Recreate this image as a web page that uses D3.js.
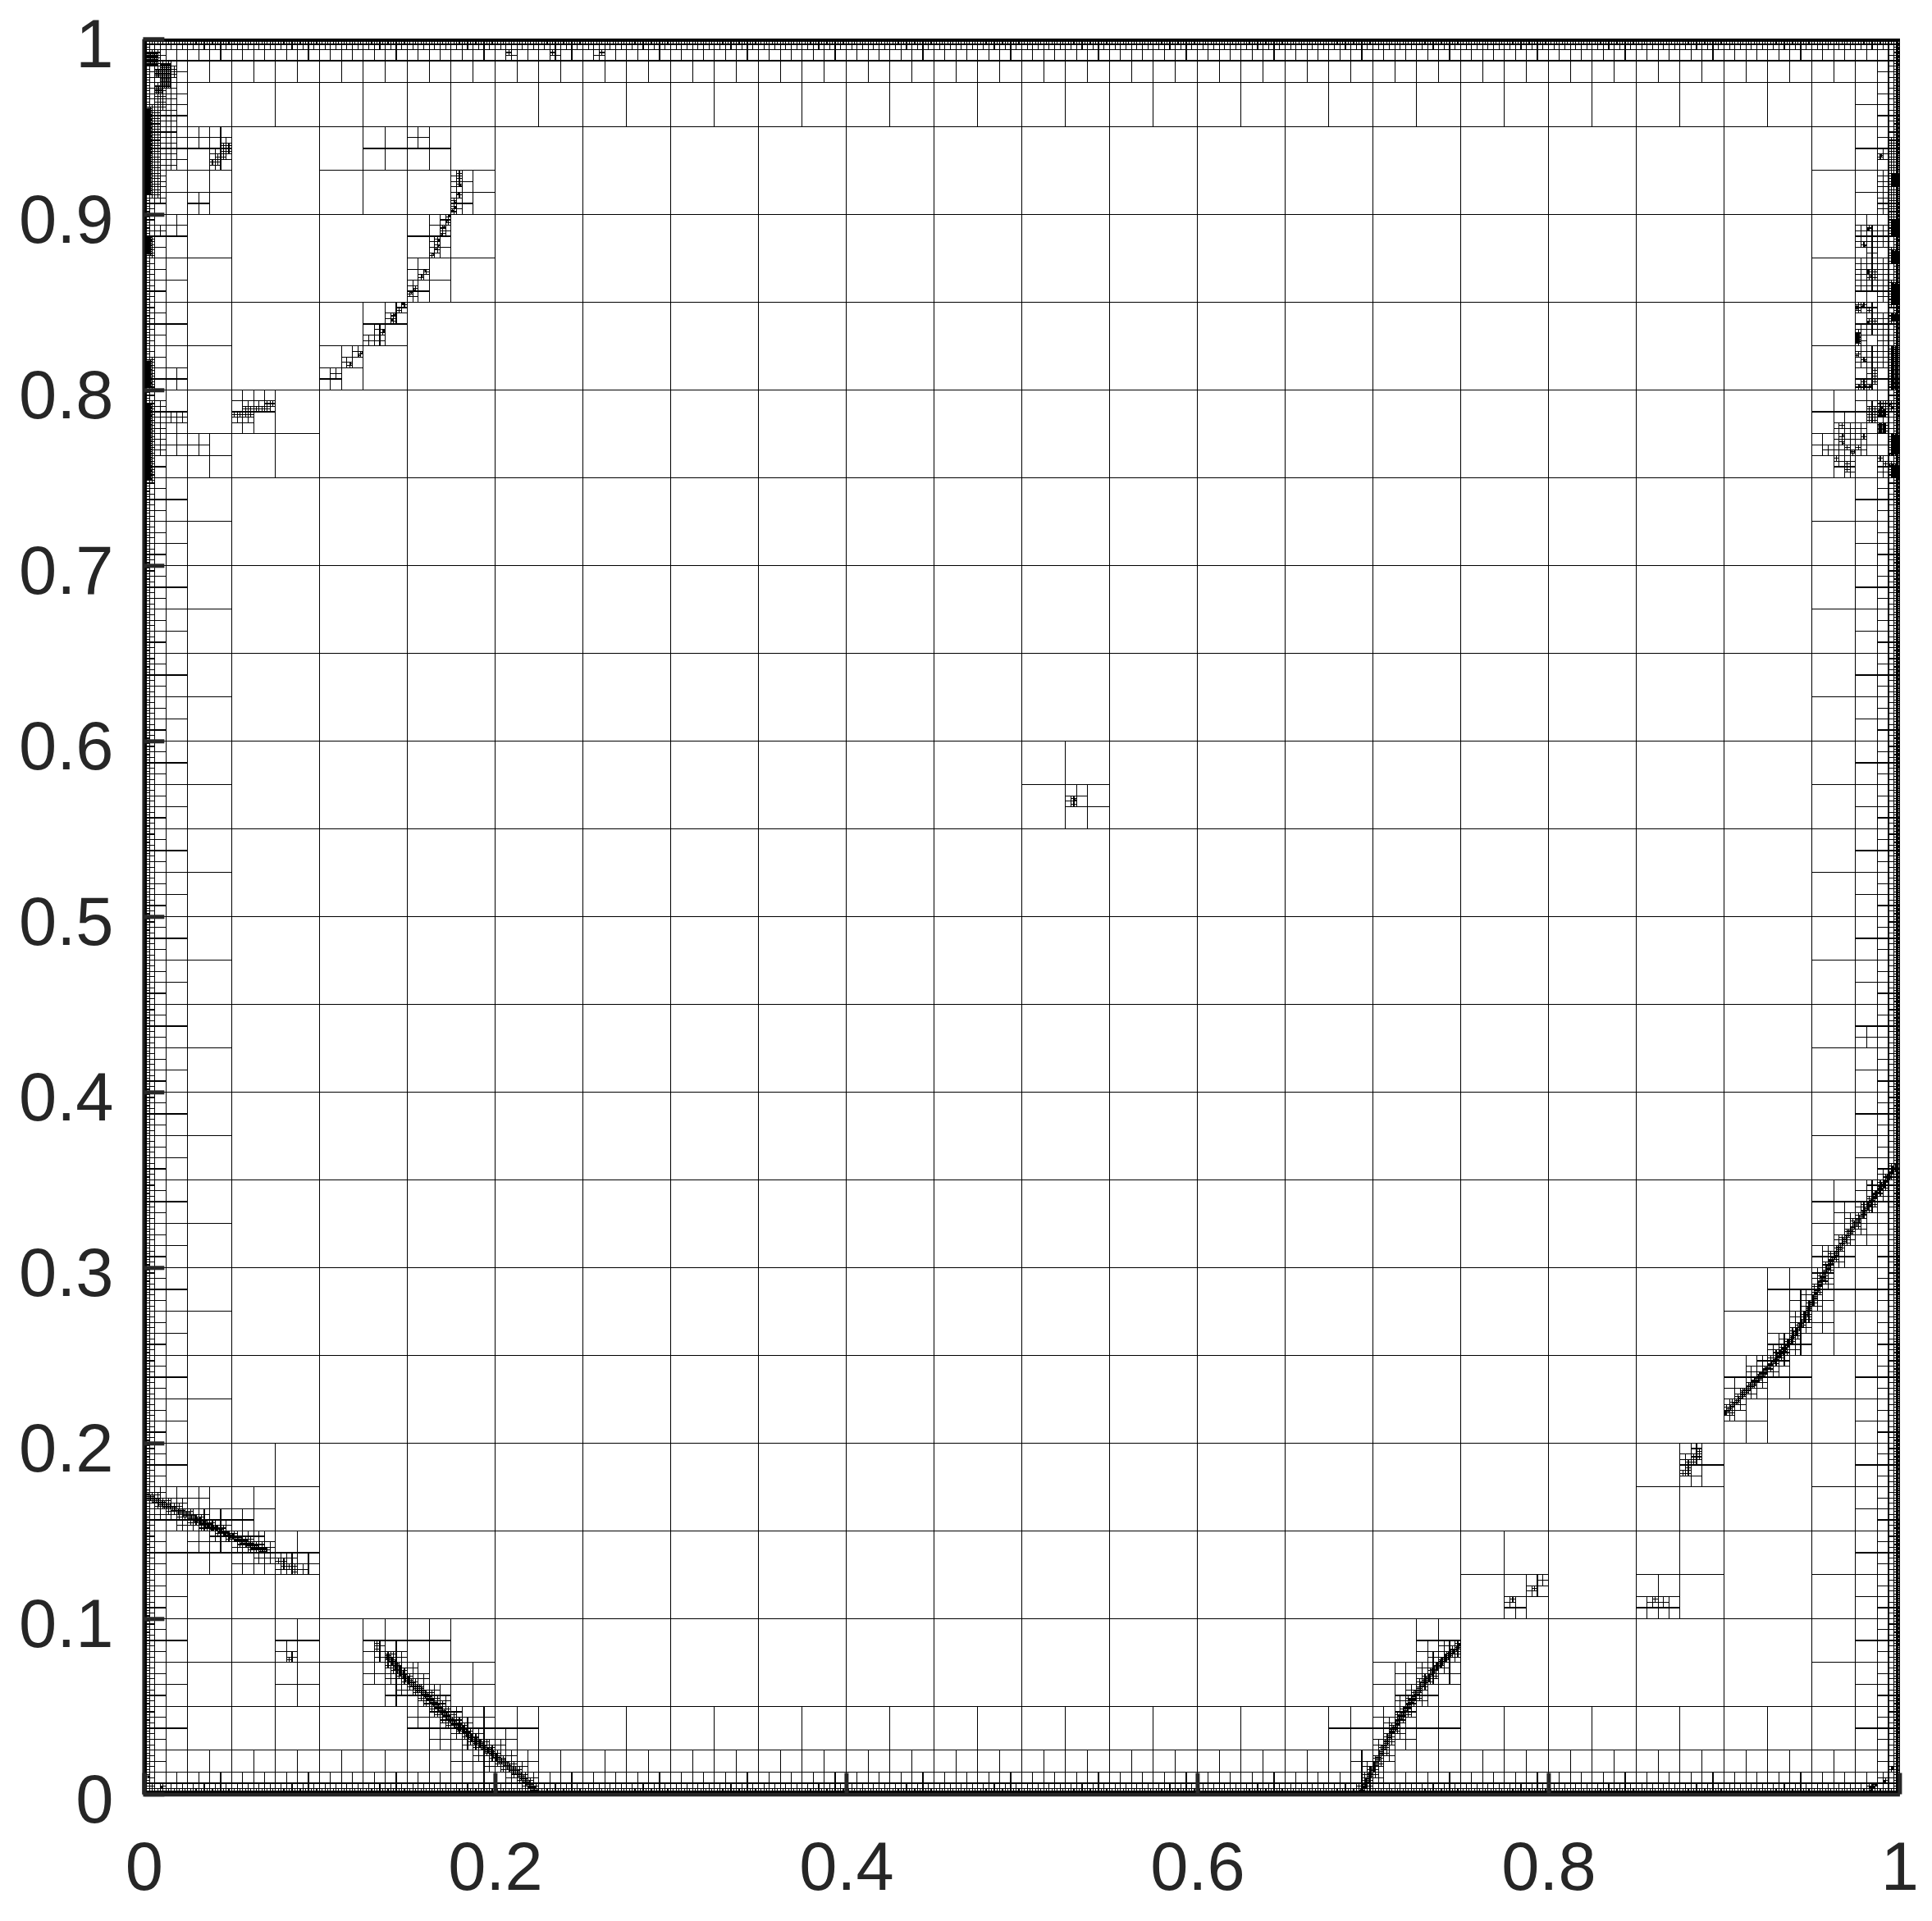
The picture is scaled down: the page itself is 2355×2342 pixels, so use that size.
<!DOCTYPE html>
<html><head><meta charset="utf-8">
<script src="https://cdn.jsdelivr.net/npm/d3@7/dist/d3.min.js"></script>
<style>html,body{margin:0;padding:0;background:#fff}svg{display:block}</style>
</head><body><div id="chart"></div>
<script>
// ---- axis values
const xTicks=[0,0.2,0.4,0.6,0.8,1];
const xTickLabels=["0","0.2","0.4","0.6","0.8","1"];
const yTicks=[0,0.1,0.2,0.3,0.4,0.5,0.6,0.7,0.8,0.9,1];
const yTickLabels=["0","0.1","0.2","0.3","0.4","0.5","0.6","0.7","0.8","0.9","1"];
// ---- mesh description: base cells per side, wall refinement depth
const baseCells=20;
const wallDepth=6;
// ---- refined interfaces [x,y]
const curveA=[[0,.1705],[.0256,.1586],[.0417,.151],[.0524,.1457],[.0685,.1385]];
const curveA2=[[.0756,.1337],[.0819,.1305],[.0872,.1272]];
const curveB=[[.1385,.0787],[.1507,.0648],[.1632,.0542],[.1757,.0417],[.1882,.0311],[.2007,.0213],[.2132,.0115],[.2248,.0005]];
const curveC=[[.6937,.0012],[.7038,.0213],[.7105,.0346],[.7195,.0494],[.7296,.0642],[.7397,.076],[.7495,.0843]];
const curveG=[[.877,.1825],[.8825,.19],[.887,.1959]];
const curveH=[[.9005,.2166],[.9129,.2299],[.9241,.2417],[.9353,.2544],[.9455,.2698],[.9522,.2846],[.9578,.2979],[.9668,.3127],[.978,.329],[.9893,.3453],[1,.3605]];
const curveL=[[.0517,.7862],[.0556,.7862],[.0614,.7882],[.0672,.7886],[.072,.7911]];
const curveM=[[.0397,.929],[.0449,.9345],[.0482,.9393]];
const curveBR=[[.9837,.003],[.986,.005]];
const curves=[curveA,curveA2,curveB,curveC,curveG,curveH,curveL,curveM,curveBR];
const curveDepth=[6,5,6,6,5,6,5,5,6];
const curveHalo=[.3,.05,.3,.2,0,.12,.03,.03,.05];
// ---- arc of separate refined spots, upper left [x,y,depth]
const arcSpots=[[.1805,.9231,5],[.1805,.9192,5],[.1797,.916,6],[.1789,.9121,6],[.1774,.9075,6],[.1766,.9044,6],[.1761,.9017,6],[.1743,.8989,6],
[.1727,.8955,6],[.1712,.8924,6],[.1699,.8888,6],[.168,.8849,6],[.1673,.8826,6],[.1665,.8799,6],[.1649,.8768,6],[.1602,.8674,6],[.1587,.8644,6],
[.154,.8572,6],[.1525,.8556,6],[.1509,.8541,5],[.1478,.8487,6],[.1462,.8463,5],[.1447,.8447,5],[.1431,.8425,6],[.1415,.84,6],[.1369,.8332,6],
[.133,.83,4],[.1291,.8262,4],[.1236,.8213,6],[.1226,.82,6],[.1178,.8148,6],[.1109,.8083,4]];
// ---- isolated spots, lower field and edges [x,y,depth]
const spots=[[.0827,.0773,5],[.08,.06,2],[.06,.16,2],[.13,.94,2],[.165,.93,2],[.1328,.0855,5],[.134,.084,5],[.7791,.1101,5],[.7926,.1175,5],[.797,.122,4],
[.8612,.1115,5],[.8585,.1075,4],[.8665,.1075,4],[.5305,.5665,6],[.5298,.564,5],[.1534,.947,3],[.209,.992,5],[.234,.9925,5],[.26,.9925,5],
[.028,.9093,3],[.0149,.8977,3],[.0159,.8047,3],[.0285,.7659,3],[.0344,.9425,3],[.0072,.891,4],[.005,.883,5],[.981,.432,3],
[.0029,.0098,7],[.01,.0033,7],[.0045,.0055,5],[.9962,.0154,6],[.992,.0071,6]];
// ---- spots of the upper right cluster [x,y,depth]
const rightSpots=[[.9902,.9336,6],[.9827,.8919,6],[.98,.8826,6],[.9824,.8662,7],[.9815,.868,6],[.9833,.8645,6],[.9762,.8483,6],[.9762,.8468,6],
[.9791,.8478,6],[.9819,.8444,5],[.9845,.8405,5],[.9827,.8385,6],[.9762,.8312,6],[.9762,.835,4],[.9866,.8802,4],[.978,.8218,5],[.9762,.8203,6],[.9804,.8167,6],
[.9811,.8031,6],[.9773,.803,6],[.9788,.8058,5],[.9858,.8054,5],[.9835,.803,6],[.996,.816,6],[.9965,.8125,6],
[.9884,.7925,5],[.9915,.7925,5],[.995,.791,6],[.9965,.7905,6],[.9895,.79,6],[.9805,.7805,4],[.9804,.7735,5],
[.9679,.7696,6],[.9686,.7735,6],[.9741,.7642,6],[.9725,.7642,6],[.9718,.7665,5],[.9679,.7805,5],[.9773,.7673,5],[.9656,.7603,5],[.9703,.7587,5],[.9702,.7543,5],[.9582,.7673,4],
[.9892,.7611,5],[.9951,.7634,6],[.9951,.7564,6],[.9928,.7579,5]];
// ---- densely refined patches [x0,x1,y0,y1,depth]
const patches=[
// upper left
[.0125,.025,.925,.9625,3],[.0125,.016,.925,.9729,4],[.00625,.0125,.9125,.9729,4],[.004,.0066,.9122,.9597,5],[0,.0034,.9122,.9597,7],
[.003,.0066,.9846,.9908,6],[.0066,.0138,.9785,.9815,6],[.0107,.0144,.9729,.9846,6],[.0066,.0097,.969,.9721,6],[.0066,.0097,.96,.969,5],[.014,.018,.979,.9815,5],
[0,.0034,.878,.886,7],[0,.0034,.803,.816,7],[0,.0034,.75,.791,7],[.00625,.0125,.765,.79,4],[.0125,.025,.7814,.787,4],[.0125,.019,.77,.7814,3],
// upper right
[.9912,.9944,.9005,.9223,4],[.9944,.9985,.89,.9425,5],[.9875,.9944,.8818,.8903,4],[.979,.9875,.8818,.888,4],[.9845,.9944,.86,.8748,4],[.9912,.9944,.8506,.86,4],
[.9815,.9845,.8631,.8678,5],[.979,.9845,.86,.87,4],[.9845,.9944,.8319,.8436,4],[.9755,.977,.8268,.832,7],[.981,.9865,.8175,.822,4],[.9855,.987,.807,.812,5],
[.9875,.9944,.8187,.8249,4],[.9912,.9944,.8249,.835,4],[.9878,.9908,.7845,.7885,6],[.9885,.992,.7755,.781,6],[.982,.987,.7825,.7885,5],
[.9625,.9775,.7625,.7725,4],[.9662,.9712,.775,.78,4],[.9875,.9925,.7505,.7525,4],
[.9959,1,.916,.9223,7],[.9959,1,.8888,.8958,7],[.9959,1,.8724,.8787,7],[.9959,1,.8491,.86,7],[.9959,1,.8397,.8429,7],[.9965,1,.7634,.7735,7],[.9965,1,.7503,.7564,7],[.9965,1,.8,.8249,6]];

// ---- layout
const W=2355,H=2342,plotLeft=175.4,plotTop=47.3,side=2140;
const x=d3.scaleLinear().domain([0,1]).range([plotLeft,plotLeft+side]);
const y=d3.scaleLinear().domain([0,1]).range([plotTop+side,plotTop]);

function segHitsBox(a,b,x0,x1,y0,y1){
  let t0=0,t1=1;const dx=b[0]-a[0],dy=b[1]-a[1];
  const ps=[-dx,dx,-dy,dy],qs=[a[0]-x0,x1-a[0],a[1]-y0,y1-a[1]];
  for(let i=0;i<4;i++){
    if(ps[i]===0){if(qs[i]<0)return false;continue;}
    const r=qs[i]/ps[i];
    if(ps[i]<0){if(r>t1)return false;if(r>t0)t0=r;}
    else{if(r<t0)return false;if(r<t1)t1=r;}
  }
  return true;
}
const allSpots=[...arcSpots,...spots,...rightSpots];
function needsSplit(i,j,k){
  const n=baseCells*Math.pow(2,k),s=1/n;
  const x0=i*s,x1=x0+s,y0=j*s,y1=y0+s;
  if(k<wallDepth&&(i===0||j===0||i===n-1||j===n-1))return true;
  for(const p of patches){
    if(p[4]>k&&x0<p[1]&&x1>p[0]&&y0<p[3]&&y1>p[2])return true;
  }
  for(const q of allSpots){
    if(q[2]>k&&q[0]>=x0&&q[0]<x1&&q[1]>=y0&&q[1]<y1)return true;
  }
  for(let c=0;c<curves.length;c++){
    if(curveDepth[c]<=k)continue;
    const m=k===0?0:curveHalo[c]*s,pts=curves[c];
    for(let e=0;e<pts.length-1;e++){
      if(segHitsBox(pts[e],pts[e+1],x0-m,x1+m,y0-m,y1+m))return true;
    }
  }
  return false;
}
const meshPath=d3.path();
function cell(i,j,k){
  if(k<8&&needsSplit(i,j,k)){
    cell(2*i,2*j,k+1);cell(2*i+1,2*j,k+1);cell(2*i,2*j+1,k+1);cell(2*i+1,2*j+1,k+1);
    return;
  }
  const s=1/(baseCells*Math.pow(2,k));
  const px=x(i*s),py=y((j+1)*s);
  meshPath.rect(px,py,x((i+1)*s)-px,y(j*s)-py);
}
for(let i=0;i<baseCells;i++)for(let j=0;j<baseCells;j++)cell(i,j,0);

const svg=d3.select("#chart").append("svg").attr("width",W).attr("height",H);
svg.append("rect").attr("width",W).attr("height",H).attr("fill","#fff");
svg.append("path").attr("d",meshPath.toString()).attr("fill","none").attr("stroke","#000")
  .attr("stroke-width",1.15).attr("shape-rendering","crispEdges");

const ink="#262626",font="'Liberation Sans',Arial,sans-serif";
const gy=svg.append("g").attr("transform",`translate(${x(0)-1},0)`)
  .call(d3.axisLeft(y).tickValues(yTicks).tickFormat((d,i)=>yTickLabels[i]).tickSize(-26).tickSizeOuter(0).tickPadding(36));
const gx=svg.append("g").attr("transform",`translate(0,${y(0)+0.2})`)
  .call(d3.axisBottom(x).tickValues(xTicks).tickFormat((d,i)=>xTickLabels[i]).tickSize(-26).tickSizeOuter(0).tickPadding(58));
gy.select(".domain").attr("stroke",ink).attr("stroke-width",3);
gx.select(".domain").attr("stroke",ink).attr("stroke-width",4.5);
svg.selectAll(".tick line").attr("stroke",ink).attr("stroke-width",5);
svg.selectAll("text").attr("font-family",font).attr("font-size",83).attr("fill",ink);
gy.selectAll("text").attr("dy","0.41em");
</script></body></html>
